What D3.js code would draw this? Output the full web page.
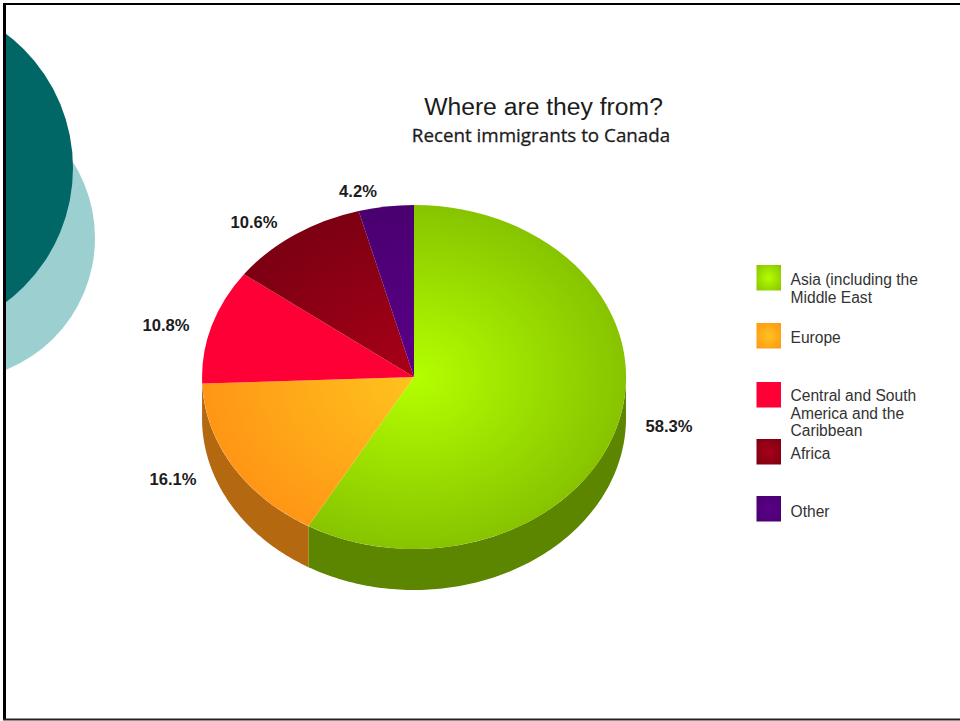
<!DOCTYPE html>
<html>
<head>
<meta charset="utf-8">
<script src="https://cdn.jsdelivr.net/npm/d3@7/dist/d3.min.js"></script>
<style>
html,body{margin:0;padding:0;background:#fff;overflow:hidden}
svg{display:block}
text{font-family:"Liberation Sans",Arial,sans-serif;fill:#1c1c1c}
</style>
</head>
<body>
<svg id="chart" width="960" height="721"></svg>
<script>
const regions = ["Asia (including the Middle East", "Europe", "Central and South America and the Caribbean", "Africa", "Other"];
const shares = [58.3, 16.1, 10.8, 10.6, 4.2];
const shareLabels = ["58.3%", "16.1%", "10.8%", "10.6%", "4.2%"];
const legendLines = [["Asia (including the", "Middle East"], ["Europe"], ["Central and South", "America and the", "Caribbean"], ["Africa"], ["Other"]];
const innerColors = ["#b4ff00", "#ffc31e", "#ff0036", "#a80018", "#5a0088"];
const outerColors = ["#87c400", "#ff9615", "#ff0036", "#7c0012", "#4a0070"];
const sideColors = ["#5c8500", "#b4680f", "#a00020", "#5c000c", "#30004c"];
const legendTops = [265, 323, 382, 439, 496];
const legendTextY = [285, 343, 401, 459, 517];
const labelPos = [[669, 432], [173, 485], [166, 331], [254, 228], [358, 197]];

const W = 960, H = 721;
const cx = 414, cy = 377, rx = 212, ry = 172, depth = 41;

const svg = d3.select("#chart");
const defs = svg.append("defs");

// Teal discs are cut off by the slide's left edge
defs.append("clipPath").attr("id", "slide")
  .append("rect").attr("x", 4).attr("y", 3).attr("width", W).attr("height", H);
const discs = svg.append("g").attr("clip-path", "url(#slide)");
discs.append("circle").attr("cx", -47).attr("cy", 238).attr("r", 142).attr("fill", "#9ccfd0");
discs.append("circle").attr("cx", -95).attr("cy", 168).attr("r", 168).attr("fill", "#006666");

// Slide frame: heavy left side, thinner top and bottom, open at the right
const frame = svg.append("g");
frame.append("rect").attr("x", 3).attr("y", 3).attr("width", 3).attr("height", 717).attr("fill", "#000");
frame.append("rect").attr("x", 3).attr("y", 3).attr("width", W).attr("height", 2).attr("fill", "#000");
frame.append("rect").attr("x", 3).attr("y", 718.5).attr("width", W).attr("height", 2).attr("fill", "#222");

// Gradients for the pie top and the legend swatches
regions.forEach((_, i) => {
  const pieGrad = defs.append("radialGradient").attr("id", "top" + i)
    .attr("gradientUnits", "userSpaceOnUse")
    .attr("cx", 0).attr("cy", 0).attr("r", 1);
  pieGrad.append("stop").attr("offset", "0%").attr("stop-color", innerColors[i]);
  pieGrad.append("stop").attr("offset", "100%").attr("stop-color", outerColors[i]);
  const swatchGrad = defs.append("radialGradient").attr("id", "swatch" + i).attr("r", "70%");
  swatchGrad.append("stop").attr("offset", "0%").attr("stop-color", innerColors[i]);
  swatchGrad.append("stop").attr("offset", "100%").attr("stop-color", outerColors[i]);
});

const slices = d3.pie().sort(null).startAngle(0).endAngle(2 * Math.PI)(shares);

// Side wall: only the front half of the rim (angles PI/2 to 3PI/2) is visible
const rimX = a => cx + rx * Math.sin(a);
const rimY = a => cy - ry * Math.cos(a);
const wall = d3.area().x(rimX).y0(rimY).y1(a => rimY(a) + depth);
svg.append("g").selectAll("path")
  .data(slices)
  .join("path")
  .attr("d", d => {
    const a0 = Math.max(d.startAngle, Math.PI / 2);
    const a1 = Math.min(d.endAngle, 3 * Math.PI / 2);
    if (a1 <= a0) return null;
    return wall(d3.range(0, 121).map(k => a0 + (a1 - a0) * k / 120));
  })
  .attr("fill", (d, i) => sideColors[i]);

// Pie top: a unit arc squashed into the tilted ellipse
const arc = d3.arc().innerRadius(0).outerRadius(1);
svg.append("g")
  .attr("transform", `translate(${cx},${cy}) scale(${rx},${ry})`)
  .selectAll("path")
  .data(slices)
  .join("path")
  .attr("d", arc)
  .attr("fill", (d, i) => `url(#top${i})`);

// Percentage labels
svg.append("g").selectAll("text")
  .data(shareLabels)
  .join("text")
  .attr("x", (d, i) => labelPos[i][0])
  .attr("y", (d, i) => labelPos[i][1])
  .attr("text-anchor", "middle")
  .attr("font-size", 16.6)
  .attr("font-weight", "bold")
  .text(d => d);

// Legend
const legend = svg.append("g");
legend.selectAll("rect")
  .data(regions)
  .join("rect")
  .attr("x", 756.5).attr("y", (d, i) => legendTops[i])
  .attr("width", 24.5).attr("height", 25.5)
  .attr("fill", (d, i) => `url(#swatch${i})`);
legendLines.forEach((lines, i) => {
  lines.forEach((line, k) => {
    legend.append("text")
      .attr("x", 790.5)
      .attr("y", legendTextY[i] + k * 17.5)
      .attr("font-size", 15.6)
      .style("fill", "#333")
      .text(line);
  });
});

// Titles
svg.append("text").attr("x", 543.5).attr("y", 115).attr("text-anchor", "middle")
  .attr("font-size", 24.7).text("Where are they from?");
svg.append("text").attr("x", 541).attr("y", 142).attr("text-anchor", "middle")
  .attr("font-size", 18.8)
  .style("font-family", '"Open Sans",sans-serif')
  .style("stroke", "#1c1c1c").style("stroke-width", 0.3)
  .text("Recent immigrants to Canada");
</script>
</body>
</html>
